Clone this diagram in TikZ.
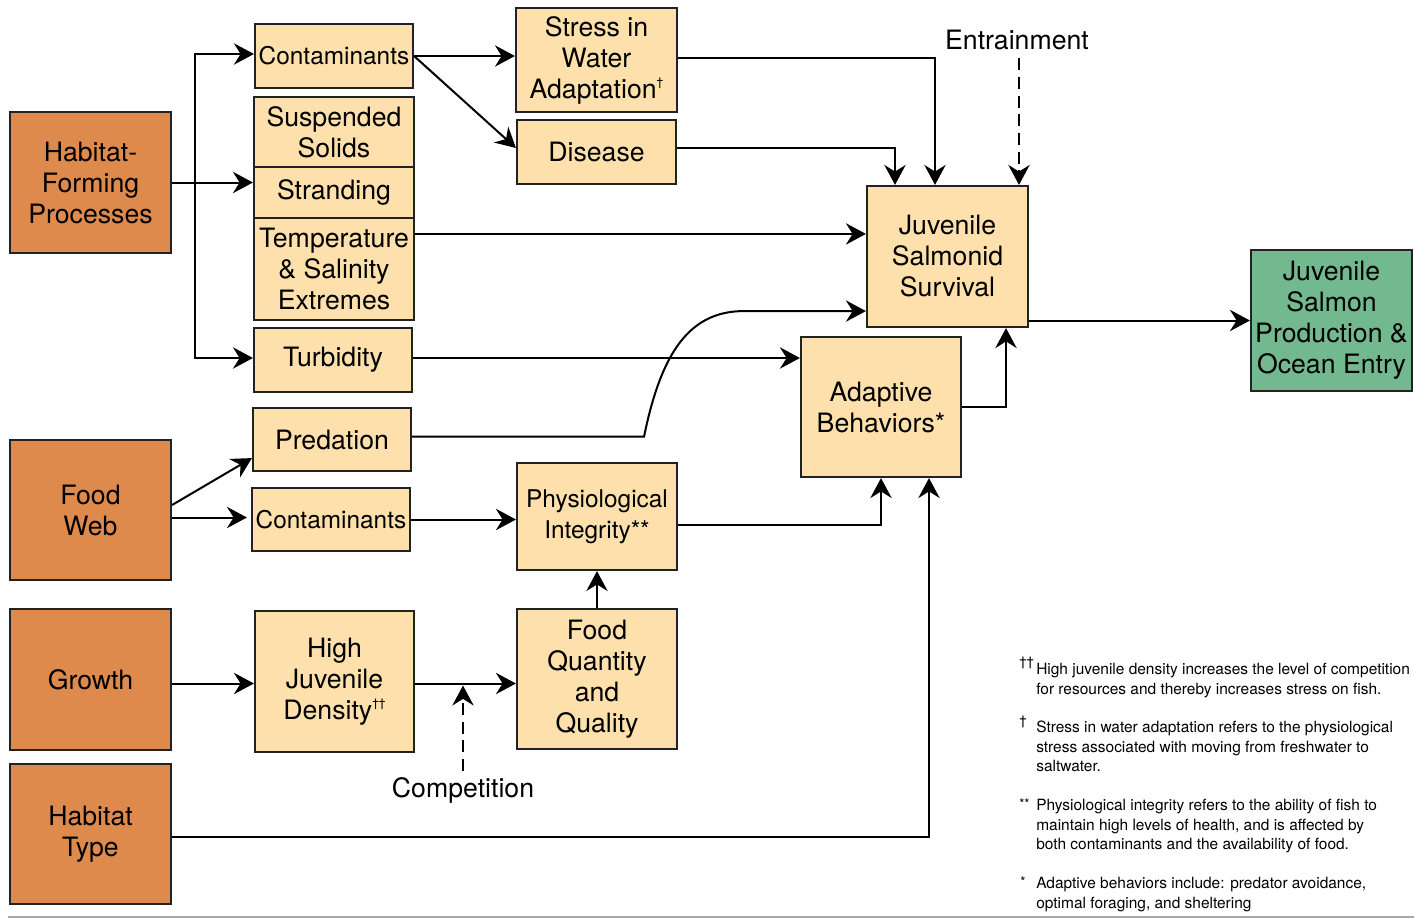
\documentclass[tikz,border=0pt]{standalone}
\usepackage{fontspec}
\setmainfont{TeX Gyre Heros}
\usetikzlibrary{arrows.meta,calc}
\definecolor{orng}{HTML}{DE8A4D}
\definecolor{tanc}{HTML}{FDE0AB}
\definecolor{grn}{HTML}{72B98F}
\definecolor{edgec}{HTML}{222222}
\newcommand\bigf{\fontsize{20}{23.25}\selectfont}
\newcommand\midf{\fontsize{18.3}{23.25}\selectfont}
\newcommand\smf{\fontsize{11.6}{14.6}\selectfont}
\newcommand\sdag[1]{\raisebox{0.85ex}{\fontsize{9}{9}\selectfont #1}}
\begin{document}
\begin{tikzpicture}[x=0.75pt,y=-0.75pt,
  box/.style={draw=edgec, line width=1.6pt, inner sep=0pt, align=center, font=\bigf, text=black},
  tanbox/.style={box, fill=tanc},
  orbox/.style={box, fill=orng},
  grbox/.style={box, fill=grn},
  span/.style n args={4}{minimum width={(#3-#1)*0.75pt}, minimum height={(#4-#2)*0.75pt}, at={({(#1+#3)/2},{(#2+#4)/2})}},
  conn/.style={line width=1.5pt, -{Stealth[length=15pt,width=16pt,inset=5pt]}},
  dashconn/.style={conn, dash pattern=on 9pt off 5pt},
  lbl/.style={font=\bigf, inner sep=0pt},
  note/.style={font=\smf, align=left, anchor=north west, inner sep=0pt},
  fmark/.style={font=\fontsize{10}{10}\selectfont, anchor=north west, inner sep=0pt}
]
\useasboundingbox (0,0) rectangle (1414,918);

% left drivers
\node[orbox, span={10}{112}{171}{253}] (hfp) {Habitat-\\Forming\\Processes};
\node[orbox, span={10}{440}{171}{580}] (fw) {Food\\Web};
\node[orbox, span={10}{609}{171}{750}] (gr) {Growth};
\node[orbox, span={10}{764}{171}{904}] (ht) {Habitat\\Type};

% second column
\node[tanbox, span={255}{24}{413}{88}, font=\midf] (c1) {Contaminants};
\node[tanbox, span={254}{97}{414}{167}] (ss) {Suspended\\Solids};
\node[tanbox, span={254}{167}{414}{218}] (st) {Stranding};
\node[tanbox, span={254}{218}{414}{320}] (te) {Temperature\\\& Salinity\\Extremes};
\node[tanbox, span={254}{328}{412}{392}] (tu) {Turbidity};
\node[tanbox, span={253}{408}{411}{471}] (pr) {Predation};
\node[tanbox, span={252}{488}{410}{551}, font=\midf] (c2) {Contaminants};
\node[tanbox, span={255}{611}{414}{752}] (hjd) {High\\Juvenile\\Density\sdag{††}};

% third column
\node[tanbox, span={516}{8}{677}{112}] (sw) {Stress in\\Water\\Adaptation\sdag{†}};
\node[tanbox, span={517}{120}{676}{184}] (di) {Disease};
\node[tanbox, span={517}{463}{677}{570}, font=\midf] (ph) {Physiological\\Integrity**};
\node[tanbox, span={517}{609}{677}{749}] (fq) {Food\\Quantity\\and\\Quality};

% right side
\node[tanbox, span={867}{186}{1028}{327}] (sv) {Juvenile\\Salmonid\\Survival};
\node[tanbox, span={801}{337}{961}{477}] (ad) {Adaptive\\Behaviors*};
\node[grbox, span={1251}{250}{1412}{391}] (jp) {Juvenile\\Salmon\\Production \&\\Ocean Entry};

% labels
\node[lbl] (en) at (1017,40) {Entrainment};
\node[lbl] (co) at (463,790) {Competition};

% connectors
\coordinate (tk) at ($(hfp.east)+(23,0)$);
\draw[line width=1.5pt] (hfp.east) -- (tk);
\draw[conn] (tk) |- ($(c1.west)+(0,-2)$);
\draw[conn] (tk) |- ($(tu.west)+(0,-2)$);
\draw[conn] (hfp.east) -- (hfp.east -| st.west);

\draw[conn] (c1.east) -- (c1.east -| sw.west);
\draw[conn] (c1.east) -- ($(di.west)+(0,-4)$);

\draw[conn] ($(sw.east)+(0,-2)$) -| ($(sv.north)+(-12.5,0)$);
\draw[conn] ($(di.east)+(0,-4)$) -| ($(sv.north)+(-52.5,0)$);
\draw[dashconn] ($(en.south)+(2,8)$) -- ($(sv.north)+(71.5,0)$);

\draw[conn] ($(te.north east)+(0,17)$) -- ($(sv.west |- te.north east)+(0,17)$);

\draw[conn] ($(pr.east)+(0,-3)$) -- ($(pr.east)+(232,-3)$)
  .. controls ($(pr.east)+(249,-86)$) and ($(sv.south west)+(-177,-17)$) ..
  ($(sv.south west)+(-122,-17)$) -- ($(sv.south west)+(0,-17)$);

\draw[conn] ($(tu.east)+(0,-2)$) -- ($(tu.east -| ad.west)+(0,-2)$);

\draw[conn] ($(fw.east)+(0,-5)$) -- ($(pr.south west)+(0,-14)$);
\draw[conn] ($(fw.east |- c2.west)+(0,-2)$) -- ($(c2.west)+(-4,-2)$);
\draw[conn] (c2.east) -- (c2.east -| ph.west);
\draw[conn] ($(ph.east)+(0,8)$) -| (ad.south);
\draw[conn] (fq.north) -- (ph.south);

\draw[conn] ($(gr.east)+(0,4)$) -- ($(gr.east -| hjd.west)+(0,4)$);
\draw[conn] ($(hjd.east)+(0,2)$) -- ($(hjd.east -| fq.west)+(0,2)$);
\draw[dashconn] ($(co.north)+(0,-6)$) -- ($(co.north |- hjd.east)+(0,4)$);

\draw[conn] ($(ht.east)+(0,3)$) -| ($(ad.south)+(48,0)$);
\draw[conn] (ad.east) -| ($(sv.south)+(58.5,0)$);
\draw[conn] (sv.east |- jp.west) -- (jp.west);

% footnotes
\node[fmark] (m1) at (1019,657) {††};
\node[note] (n1) at (1036,663) {High juvenile density increases the level of competition\\for resources and thereby increases stress on fish.};
\node[fmark] (m2) at (1019,716) {†};
\node[note] (n2) at (1036,721) {Stress in water adaptation refers to the physiological\\stress associated with moving from freshwater to\\saltwater.};
\node[fmark] (m3) at (1019,799) {**};
\node[note] (n3) at (1036,799) {Physiological integrity refers to the ability of fish to\\maintain high levels of health, and is affected by\\both contaminants and the availability of food.};
\node[fmark] (m4) at (1020,877) {*};
\node[note] (n4) at (1036,877) {Adaptive behaviors include: predator avoidance,\\optimal foraging, and sheltering};

\draw[gray!70, line width=1.2pt] (8,917) -- (1414,917);
\end{tikzpicture}
\end{document}
